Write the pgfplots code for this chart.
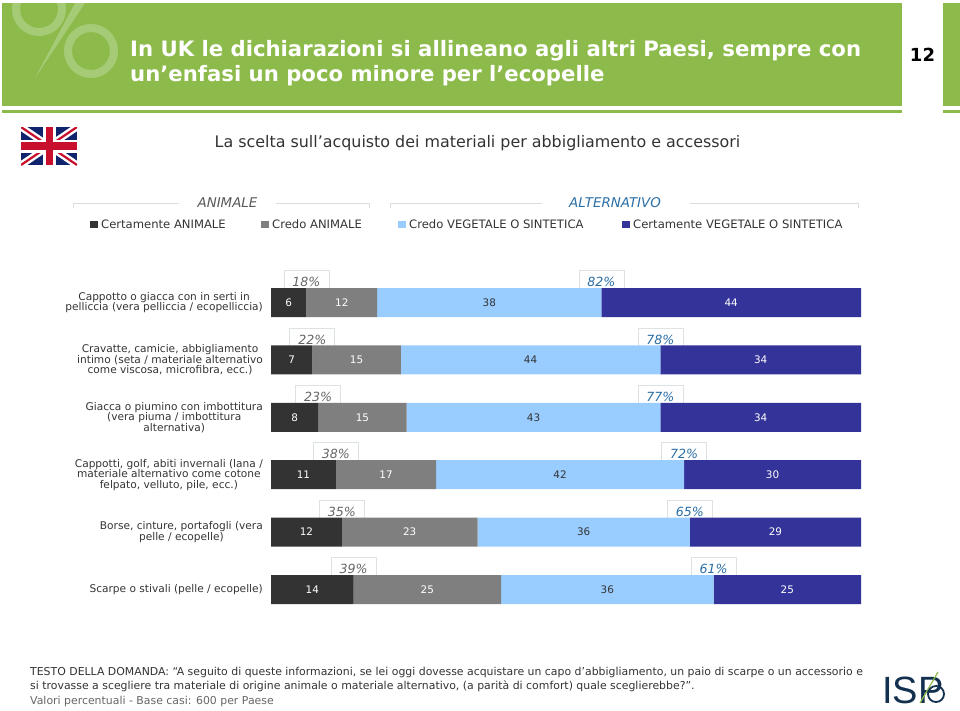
\documentclass[border=0pt]{standalone}
\usepackage{pgfplots}
\usepackage{fontspec}
\pgfplotsset{compat=1.18}
\setmainfont{DejaVu Sans}
\newfontfamily\lib{Liberation Sans}
\definecolor{hgreen}{HTML}{8DBB4B}
\definecolor{wm}{HTML}{A5CB77}
\definecolor{cdark}{HTML}{333333}
\definecolor{cgray}{HTML}{7F7F7F}
\definecolor{clight}{HTML}{99CCFF}
\definecolor{cnavy}{HTML}{333399}
\definecolor{txt}{HTML}{333333}
\definecolor{altblue}{HTML}{2A6EA6}
\definecolor{brk}{HTML}{D8DEDE}
\definecolor{flagblue}{HTML}{10246E}
\definecolor{flagred}{HTML}{C8102E}
\definecolor{logonavy}{HTML}{14304F}
\definecolor{boxline}{HTML}{DDE3E3}
\pgfplotstableread{
row a b c d
0 6 12 38 44
1 7 15 44 34
2 8 15 43 34
3 11 17 42 30
4 12 23 36 29
5 14 25 36 25
}\datatable
\newcommand{\fs}[1]{\fontsize{#1}{#1}\selectfont}
\begin{document}
\begin{tikzpicture}[x=1pt,y=-1pt]
\path (0,0) rectangle (960,710);
% header
\fill[hgreen] (2,3) rectangle (902,106);
\fill[hgreen] (2,110) rectangle (902,113);
\fill[hgreen] (943,3) rectangle (960,106);
\fill[hgreen] (943,110) rectangle (960,113);
\begin{scope}
\clip (2,3) rectangle (902,106);
\draw[wm,line width=8pt] (39,9) circle[radius=23];
\draw[wm,line width=8pt] (91,51) circle[radius=23];
\fill[wm] (75,3) -- (85,3) -- (35,78) -- cycle;
\end{scope}
\node[anchor=west,text=white,inner sep=0pt,font=\bfseries\fs{21.2}] at (130,51) {In UK le dichiarazioni si allineano agli altri Paesi, sempre con};
\node[anchor=west,text=white,inner sep=0pt,font=\bfseries\fs{21.2}] at (130,76) {un’enfasi un poco minore per l’ecopelle};
\node[font=\bfseries\fs{18},text=black] at (922.5,55) {12};
% flag
\begin{scope}
\clip (21,127) rectangle (77,165);
\fill[flagblue] (21,127) rectangle (77,165);
\draw[white,line width=7pt] (21,127) -- (77,165) (21,165) -- (77,127);
\draw[flagred,line width=2.2pt] (21,127) -- (77,165) (21,165) -- (77,127);
\fill[white] (21,139.5) rectangle (77,152.5);
\fill[white] (42.5,127) rectangle (55.5,165);
\fill[flagred] (21,142) rectangle (77,150);
\fill[flagred] (45.5,127) rectangle (52.5,165);
\end{scope}
\node[font=\fs{15.9},text=txt] at (477.5,143) {La scelta sull’acquisto dei materiali per abbigliamento e accessori};
% brackets
\draw[brk,line width=0.8pt] (73,208) -- (73,203.5) -- (179,203.5) (276,203.5) -- (369,203.5) -- (369,208);
\draw[brk,line width=0.8pt] (390,208) -- (390,203.5) -- (542,203.5) (690,203.5) -- (858,203.5) -- (858,208);
\node[font=\itshape\fs{13.4},text=black!65] at (227.5,203) {ANIMALE};
\node[font=\itshape\fs{13.4},text=altblue] at (615,203) {ALTERNATIVO};
% legend
\foreach \xx/\cc/\tt in {90/cdark/Certamente ANIMALE,261/cgray/Credo ANIMALE,398/clight/Credo VEGETALE O SINTETICA,622/cnavy/Certamente VEGETALE O SINTETICA}{
  \fill[\cc] (\xx,220.5) rectangle ++(7.5,7.5);
  \node[anchor=west,inner sep=0pt,font=\fs{11.6},text=txt] at (\xx+11,224.5) {\tt};
}
% chart
\begin{axis}[
  at={(271pt,-618.2pt)}, anchor=south west,
  width=590pt, height=344.4pt, scale only axis,
  xbar stacked, bar width=29pt,
  xmin=0, xmax=100, ymin=-0.5, ymax=5.5, y dir=reverse,
  axis x line=none, axis y line=left, y axis line style={draw=none},
  xtick=\empty,
  ytick={0,1,2,3,4,5}, major tick length=0pt,
  yticklabels={
    {Cappotto o giacca con in serti in\\pelliccia (vera pelliccia / ecopelliccia)},
    {Cravatte, camicie, abbigliamento\\intimo (seta / materiale alternativo\\come viscosa, microfibra, ecc.)},
    {Giacca o piumino con imbottitura\\(vera piuma / imbottitura\\alternativa)},
    {Cappotti, golf, abiti invernali (lana /\\materiale alternativo come cotone\\felpato, velluto, pile, ecc.)},
    {Borse, cinture, portafogli (vera\\pelle / ecopelle)},
    {Scarpe o stivali (pelle / ecopelle)}},
  yticklabel style={align=center,anchor=east,inner sep=0pt,xshift=-8pt,font=\fs{10.6},text=txt,/pgf/number format/assume math mode=true},
  clip=false,
  nodes near coords,
  every node near coord/.append style={font=\fs{10.4},text=white,anchor=center,inner sep=0pt,/pgf/number format/assume math mode=true},
]
\addplot[fill=cdark,draw=none] table[x=a,y=row] {\datatable};
\addplot[fill=cgray,draw=none] table[x=b,y=row] {\datatable};
\addplot[fill=clight,draw=none,every node near coord/.append style={text=txt}] table[x=c,y=row] {\datatable};
\addplot[fill=cnavy,draw=none] table[x=d,y=row] {\datatable};
\tikzset{pb/.style={fill=white,draw=boxline,line width=0.7pt,minimum width=45pt,minimum height=23pt,inner sep=0pt,font=\itshape\fs{12.6},yshift=20.5pt}}
\foreach \xx/\yy/\ll in {6/0/18,7/1/22,8/2/23,11/3/38,12/4/35,14/5/39}{
  \edef\tmp{\noexpand\node[pb,text=black!60] at (axis cs:\xx,\yy) {\ll\noexpand\%};}\tmp
}
\foreach \xx/\yy/\ll in {56/0/82,66/1/78,66/2/77,70/3/72,71/4/65,75/5/61}{
  \edef\tmp{\noexpand\node[pb,text=altblue] at (axis cs:\xx,\yy) {\ll\noexpand\%};}\tmp
}
\end{axis}
% footer
\node[anchor=west,inner sep=0pt,font=\fs{10.9},text=txt] at (30,672) {TESTO DELLA DOMANDA: “A seguito di queste informazioni, se lei oggi dovesse acquistare un capo d’abbigliamento, un paio di scarpe o un accessorio e};
\node[anchor=west,inner sep=0pt,font=\fs{10.9},text=txt] at (30,686.5) {si trovasse a scegliere tra materiale di origine animale o materiale alternativo, (a parità di comfort) quale sceglierebbe?”.};
\node[anchor=west,inner sep=0pt,font=\fs{10.9},text=black!60] at (30,701.5) {Valori percentuali - Base casi: 600 per Paese};
% logo
\node[anchor=west,inner sep=0pt,font=\lib\fs{38},text=logonavy] at (882,690) {ISP};
\draw[hgreen,line width=1.2pt] (938,672) -- (920,703);
\draw[logonavy,line width=1.8pt] (936,694) circle[radius=8];
\end{tikzpicture}
\end{document}
